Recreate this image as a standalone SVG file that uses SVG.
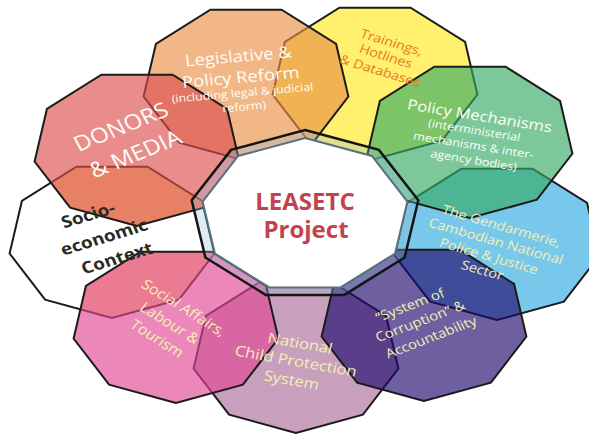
<svg xmlns="http://www.w3.org/2000/svg" width="589" height="436" viewBox="0 0 589 436">
  <style>
    .petal{stroke:#1b1b1b;stroke-width:2;stroke-linejoin:miter;fill-opacity:.65}
    .t{font-family:"Open Sans","Noto Sans","Liberation Sans",sans-serif;text-anchor:middle}
    .wht{fill:#fffdf6}
    .crm{fill:#f4efb4}
  </style>
  <defs>
    <!-- flat-topped nonagon used for every petal -->
    <polygon id="nona" points="0,78 -66.9,59.7 -102.4,13.5 -90.1,-39 -35.6,-73.3 35.6,-73.3 90.1,-39 102.4,13.5 66.9,59.7"/>
    <clipPath id="socio-clip"><use href="#nona" x="112" y="240"/></clipPath>
  </defs>
  <rect width="589" height="436" fill="#ffffff"/>

  <!-- petals, back to front -->
  <g id="node-trainings"><use href="#nona" x="375" y="81" class="petal" fill="#ffe820"/></g>
  <g id="node-gendarmerie"><use href="#nona" x="497" y="242" class="petal" fill="#2faae0"/></g>
  <g id="node-national"><use href="#nona" x="296" y="355" class="petal" fill="#aa6d9b"/></g>
  <g id="node-socio">
    <use href="#nona" x="112" y="240" fill="#ffffff"/>
    <g clip-path="url(#socio-clip)" fill="#ffdc91">
      <use href="#nona" x="137" y="148"/>
      <use href="#nona" x="176" y="325"/>
    </g>
    <use href="#nona" x="112" y="240" fill="none" stroke="#1b1b1b" stroke-width="2"/>
  </g>
  <g id="node-legislative"><use href="#nona" x="246" y="83" class="petal" fill="#e99046"/></g>
  <g id="node-policy"><use href="#nona" x="470" y="140" class="petal" fill="#37aa65"/></g>
  <g id="node-corruption"><use href="#nona" x="424" y="323" class="petal" fill="#20096d"/></g>
  <g id="node-social"><use href="#nona" x="176" y="325" class="petal" fill="#e04693"/></g>
  <g id="node-donors"><use href="#nona" x="137" y="148" class="petal" fill="#dc4e4e"/></g>

  <!-- central hub -->
  <g id="node-center">
    <polygon points="305,130 378.9,149.9 418.3,200.2 404.6,257.5 344.3,294.9 265.7,294.9 205.4,257.5 191.7,200.2 231.1,149.9" fill="#96bed7" fill-opacity=".3" stroke="#141414" stroke-width="2.5"/>
    <polygon points="305,138 371.9,156 407.4,201.6 395.1,253.5 340.6,287.4 269.4,287.4 214.9,253.5 202.6,201.6 238.1,156" fill="#ffffff" stroke="#56717f" stroke-width="2"/>
    <text class="t" font-size="24" font-weight="700" fill="#c4424d"><tspan x="305" y="210">LEASETC</tspan><tspan x="306" y="238">Project</tspan></text>
  </g>

  <!-- petal labels -->
  <g id="labels">
    <g id="label-legislative" transform="translate(241,80) scale(1.15,1) rotate(-5.75)">
      <text class="t wht" font-size="16"><tspan x="0" y="-18.2">Legislative &amp;</tspan><tspan x="0" y="2.8">Policy Reform</tspan></text>
      <text class="t wht" font-size="10.8"><tspan x="0" y="16.6">(including legal &amp; judicial</tspan><tspan x="0" y="30.6">reform)</tspan></text>
    </g>
    <g id="label-trainings" transform="translate(386,56) scale(1.15,1) rotate(19.4)">
      <text class="t" font-size="12.5" fill="#e8781e"><tspan x="0" y="-10.1">Trainings,</tspan><tspan x="0" y="4.5">Hotlines</tspan><tspan x="0" y="20.1">&amp; Databases</tspan></text>
    </g>
    <g id="label-policy" transform="translate(475,138) scale(1.15,1) rotate(10.5)">
      <text class="t wht" font-size="14.5"><tspan x="0" y="-17.5">Policy Mechanisms</tspan></text>
      <text class="t wht" font-size="11"><tspan x="-2" y="-3.7">(interministerial</tspan><tspan x="0" y="11.2">mechanisms &amp; inter-</tspan><tspan x="3" y="25.8">agency bodies)</tspan></text>
    </g>
    <g id="label-gendarmerie" transform="translate(492,248) scale(1.15,1) rotate(18.3)">
      <text class="t crm" font-size="12.8"><tspan x="1" y="-19">The Gendarmerie,</tspan><tspan x="1" y="-3.1">Cambodian National</tspan><tspan x="0" y="13">Police &amp; Justice</tspan><tspan x="-1" y="28.2">Sector</tspan></text>
    </g>
    <g id="label-corruption" transform="translate(420,321) scale(1.15,1) rotate(-23.8)">
      <text class="t crm" font-size="13"><tspan x="-1.5" y="-13.5">“System of</tspan><tspan x="0" y="4.7">Corruption” &amp;</tspan><tspan x="2.3" y="23.2">Accountability</tspan></text>
    </g>
    <g id="label-national" transform="translate(296,361) scale(1.15,1) rotate(11.5)">
      <text class="t crm" font-size="14.5"><tspan x="0" y="-13.1">National</tspan><tspan x="0" y="5.2">Child Protection</tspan><tspan x="0" y="24.5">System</tspan></text>
    </g>
    <g id="label-social" transform="translate(170,323) scale(1.15,1) rotate(35.7)">
      <text class="t crm" font-size="14"><tspan x="1" y="-14.5">Social Affairs,</tspan><tspan x="0" y="5">Labour &amp;</tspan><tspan x="0" y="24">Tourism</tspan></text>
    </g>
    <g id="label-socio" transform="translate(104,237) scale(1.15,1) rotate(-19.4)">
      <text class="t" font-size="16.5" font-weight="700" fill="#2a2a1e"><tspan x="-5.8" y="-19.5">Socio-</tspan><tspan x="0" y="5.9">economic</tspan><tspan x="3.7" y="29.5">Context</tspan></text>
    </g>
    <g id="label-donors" transform="translate(128,140) scale(1.15,1) rotate(-24.9)">
      <text class="t wht" font-size="21"><tspan x="0" y="-7.2">DONORS</tspan><tspan x="0" y="22.5">&amp; MEDIA</tspan></text>
    </g>
  </g>
</svg>
